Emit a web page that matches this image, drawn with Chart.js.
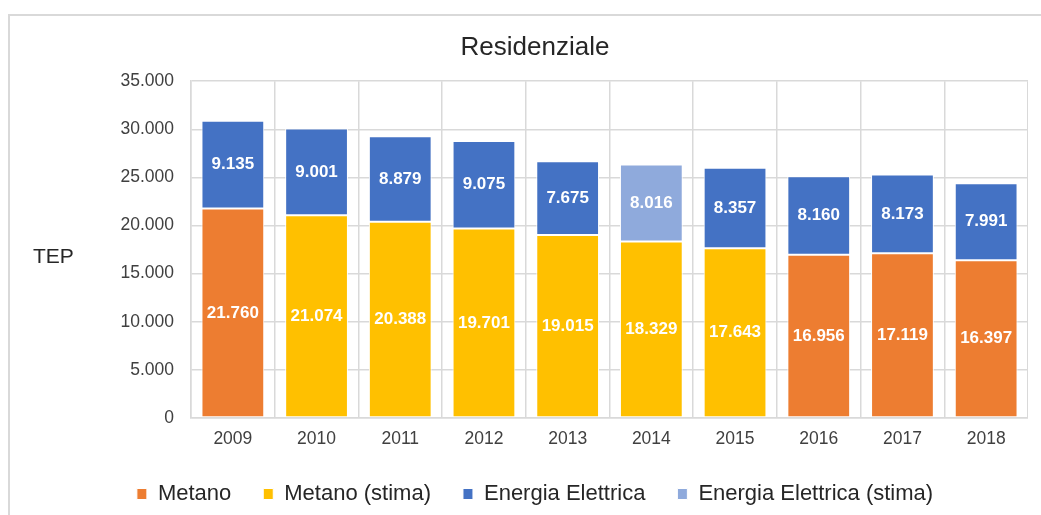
<!DOCTYPE html>
<html lang="it">
<head>
<meta charset="UTF-8">
<title>Residenziale</title>
<script src="https://cdn.jsdelivr.net/npm/chart.js"></script>
<style>
  html, body { margin: 0; padding: 0; background: #fff; overflow: hidden; }
  .frame { position: absolute; left: 8px; top: 14px; width: 1100px; height: 560px;
           border-left: 2px solid #d9d9d9; border-top: 2px solid #d9d9d9; }
  canvas { position: absolute; left: 0; top: 0; }
</style>
</head>
<body>
<div class="frame"><canvas id="chart" width="1018" height="499"></canvas></div>
<script>
// dati (TEP)
const anni = ['2009', '2010', '2011', '2012', '2013', '2014', '2015', '2016', '2017', '2018'];
const metano = [21760, null, null, null, null, null, null, 16956, 17119, 16397];
const metanoStima = [null, 21074, 20388, 19701, 19015, 18329, 17643, null, null, null];
const elettrica = [9135, 9001, 8879, 9075, 7675, null, 8357, 8160, 8173, 7991];
const elettricaStima = [null, null, null, null, null, 8016, null, null, null, null];
const yMin = 0, yMax = 35000, yStep = 5000;

const FONT = '"Liberation Sans", Arial, sans-serif';

// separatore delle migliaia all'italiana
function fmt(v) {
    return String(v).replace(/\B(?=(\d{3})+(?!\d))/g, '.');
}

// etichette bianche dentro le barre
const etichette = {
    id: 'etichette',
    afterDatasetsDraw(chart) {
        const ctx = chart.ctx;
        ctx.save();
        ctx.font = 'bold 17px ' + FONT;
        ctx.fillStyle = '#ffffff';
        ctx.textAlign = 'center';
        ctx.textBaseline = 'middle';
        chart.data.datasets.forEach((ds, i) => {
            const meta = chart.getDatasetMeta(i);
            meta.data.forEach((bar, j) => {
                const v = ds.data[j];
                if (v == null) return;
                const p = bar.getProps(['x', 'y', 'base'], true);
                ctx.fillText(fmt(v), p.x, (p.y + p.base) / 2);
            });
        });
        ctx.restore();
    }
};

// titolo asse Y orizzontale
const titoloY = {
    id: 'titoloY',
    afterDraw(chart) {
        const ctx = chart.ctx;
        ctx.save();
        ctx.font = '21px ' + FONT;
        ctx.fillStyle = '#262626';
        ctx.textAlign = 'left';
        ctx.textBaseline = 'middle';
        ctx.fillText('TEP', 23, 241);
        ctx.restore();
    }
};

const griglia = '#d9d9d9';

new Chart(document.getElementById('chart'), {
    type: 'bar',
    data: {
        labels: anni,
        datasets: [
            { label: 'Metano', data: metano, backgroundColor: '#ED7D31' },
            { label: 'Metano (stima)', data: metanoStima, backgroundColor: '#FFC000' },
            { label: 'Energia Elettrica', data: elettrica, backgroundColor: '#4472C4' },
            { label: 'Energia Elettrica (stima)', data: elettricaStima, backgroundColor: '#8FAADC' }
        ].map(d => Object.assign(d, {
            borderColor: '#ffffff',
            borderWidth: 1,
            borderSkipped: false,
            barPercentage: 0.75,
            categoryPercentage: 1
        }))
    },
    options: {
        responsive: false,
        animation: false,
        layout: { padding: { left: 32, right: 0, top: 0, bottom: 0 } },
        plugins: {
            title: {
                display: true,
                text: 'Residenziale',
                color: '#262626',
                font: { family: FONT, size: 26, weight: 'normal' },
                padding: { top: 16, bottom: 18 }
            },
            legend: {
                position: 'bottom',
                labels: {
                    color: '#262626',
                    font: { family: FONT, size: 22 },
                    boxWidth: 10,
                    boxHeight: 11,
                    padding: 32
                }
            },
            tooltip: { enabled: false }
        },
        scales: {
            x: {
                stacked: true,
                grid: { color: griglia, lineWidth: 1.5, drawTicks: false },
                border: { color: griglia, width: 1.5 },
                ticks: { color: '#404040', font: { family: FONT, size: 17.5 }, padding: 11 },
                afterFit(scale) { scale.height = 33; }
            },
            y: {
                stacked: true,
                min: yMin,
                max: yMax,
                grid: { color: griglia, lineWidth: 1.5, drawTicks: false },
                border: { color: griglia, width: 1.5 },
                ticks: {
                    stepSize: yStep,
                    color: '#404040',
                    font: { family: FONT, size: 17.5 },
                    padding: 17,
                    callback: v => fmt(v)
                },
                afterFit(scale) { scale.width = 149; }
            }
        }
    },
    plugins: [etichette, titoloY]
});
</script>
</body>
</html>
